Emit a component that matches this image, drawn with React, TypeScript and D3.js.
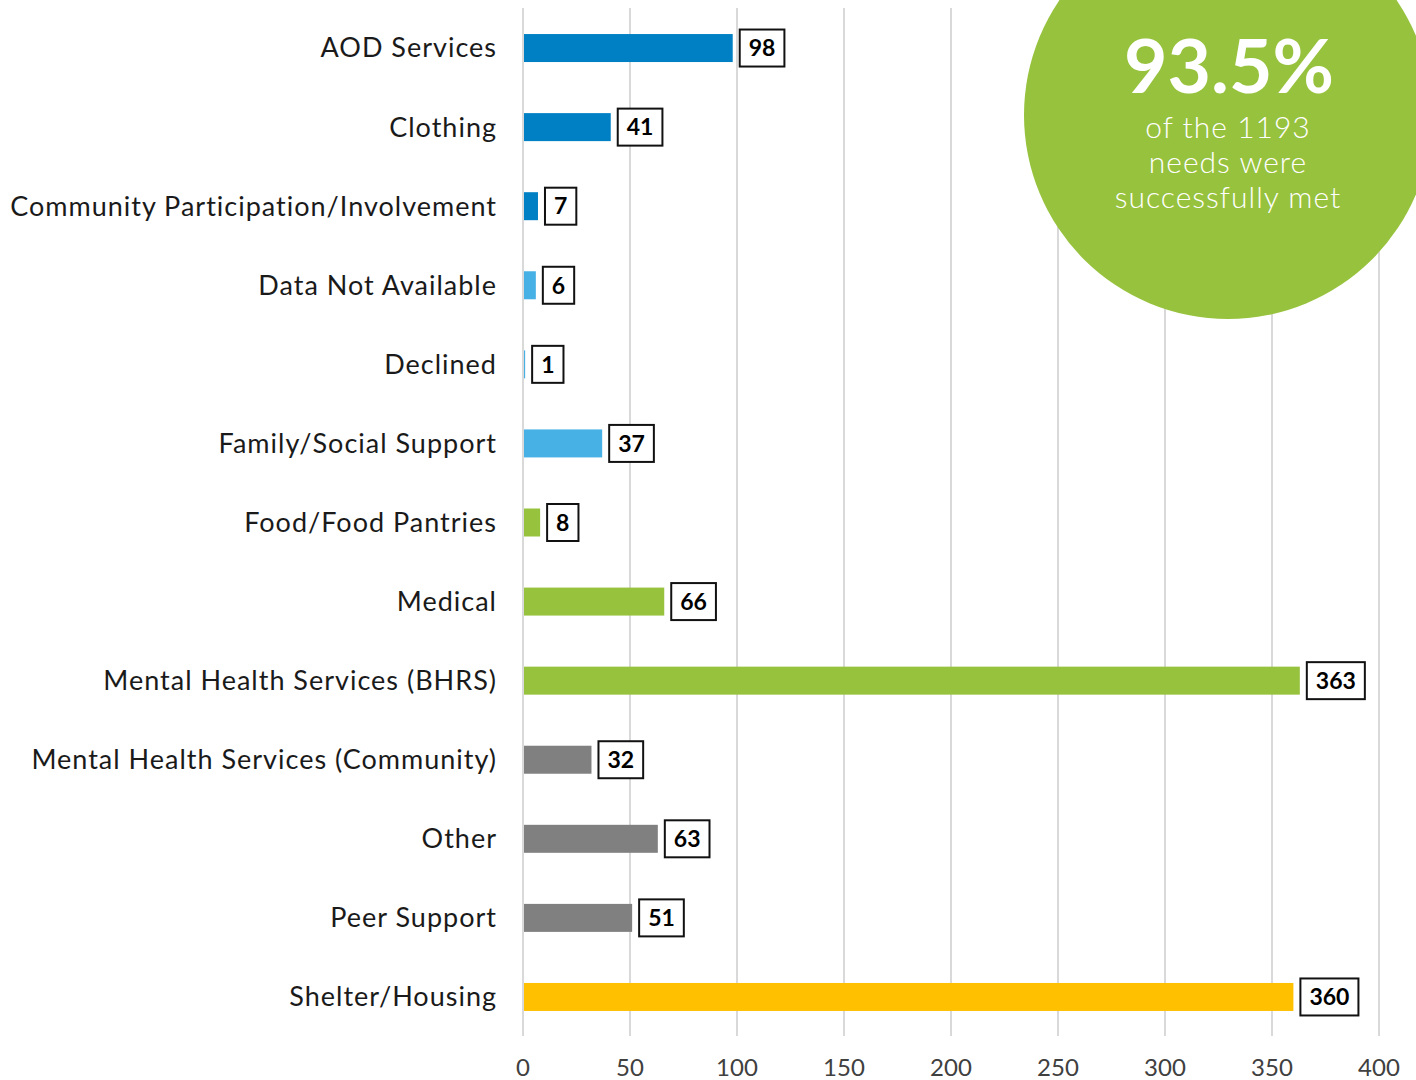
import React, { useEffect, useRef } from 'react';
import * as d3 from 'd3';

const categories = [
  'AOD Services',
  'Clothing',
  'Community Participation/Involvement',
  'Data Not Available',
  'Declined',
  'Family/Social Support',
  'Food/Food Pantries',
  'Medical',
  'Mental Health Services (BHRS)',
  'Mental Health Services (Community)',
  'Other',
  'Peer Support',
  'Shelter/Housing',
];
const counts = [98, 41, 7, 6, 1, 37, 8, 66, 363, 32, 63, 51, 360];
const barColors = [
  '#0080c4', '#0080c4', '#0080c4',
  '#47b0e5', '#47b0e5', '#47b0e5',
  '#97c23d', '#97c23d', '#97c23d',
  '#808080', '#808080', '#808080',
  '#ffc000',
];
const xTicks = [0, 50, 100, 150, 200, 250, 300, 350, 400];
const calloutBig = '93.5%';
const calloutLines = ['of the 1193', 'needs were', 'successfully met'];

const FONT = 'Lato, "Open Sans", sans-serif';

const App = () => {
  const ref = useRef<SVGSVGElement>(null);

  useEffect(() => {
    const svg = d3.select(ref.current);
    svg.selectAll('*').remove();

    const width = 1416;
    const height = 1080;

    const x = d3.scaleLinear().domain([0, 400]).range([523, 1379]);
    const y = d3.scaleBand()
      .domain(categories)
      .range([8.5, 1036.5])
      .paddingInner(0.646)
      .paddingOuter(0.323);

    // gridlines
    svg.append('g')
      .selectAll('line')
      .data(xTicks)
      .enter()
      .append('line')
      .attr('x1', d => x(d))
      .attr('x2', d => x(d))
      .attr('y1', 8)
      .attr('y2', 1036)
      .attr('stroke', '#d9d9d9')
      .attr('stroke-width', 2);

    // tick labels
    svg.append('g')
      .selectAll('text')
      .data(xTicks)
      .enter()
      .append('text')
      .attr('x', d => x(d))
      .attr('y', 1076)
      .attr('text-anchor', 'middle')
      .attr('font-family', FONT)
      .attr('font-size', 24)
      .attr('fill', '#404040')
      .text(d => d);

    // category labels
    svg.append('g')
      .selectAll('text')
      .data(categories)
      .enter()
      .append('text')
      .attr('x', 497)
      .attr('y', d => (y(d) as number) + y.bandwidth() / 2)
      .attr('dy', '0.35em')
      .attr('text-anchor', 'end')
      .attr('font-family', FONT)
      .attr('font-size', 27)
      .attr('letter-spacing', 1)
      .attr('fill', '#1a1a1a')
      .text(d => d);

    const rows = categories.map((c, i) => ({ c, v: counts[i], color: barColors[i] }));

    // bars
    svg.append('g')
      .selectAll('rect')
      .data(rows)
      .enter()
      .append('rect')
      .attr('x', x(0) + 1)
      .attr('y', d => y(d.c) as number)
      .attr('width', d => Math.max(1, x(d.v) - x(0) - 1))
      .attr('height', y.bandwidth())
      .attr('fill', d => d.color);

    // value boxes
    const lab = svg.append('g')
      .selectAll('g')
      .data(rows)
      .enter()
      .append('g')
      .attr('transform', d => `translate(${x(d.v) + 7},${(y(d.c) as number) + y.bandwidth() / 2})`);

    lab.each(function (d) {
      const g = d3.select(this);
      const rect = g.append('rect')
        .attr('y', -18.5)
        .attr('height', 37)
        .attr('fill', '#fff')
        .attr('stroke', '#111')
        .attr('stroke-width', 2);
      const t = g.append('text')
        .attr('y', 0)
        .attr('dy', '0.36em')
        .attr('text-anchor', 'middle')
        .attr('font-family', FONT)
        .attr('font-weight', 700)
        .attr('font-size', 23)
        .attr('fill', '#000')
        .text(d.v);
      const w = (t.node() as SVGTextElement).getComputedTextLength() + 18;
      rect.attr('x', 0).attr('width', w);
      t.attr('x', w / 2);
    });

    // callout circle
    svg.append('circle')
      .attr('cx', 1228)
      .attr('cy', 115)
      .attr('r', 204)
      .attr('fill', '#97c23d');

    svg.append('text')
      .attr('x', 1229)
      .attr('y', 93)
      .attr('text-anchor', 'middle')
      .attr('font-family', FONT)
      .attr('font-weight', 700)
      .attr('font-size', 75)
      .attr('fill', '#fff')
      .text(calloutBig);

    svg.append('g')
      .selectAll('text')
      .data(calloutLines)
      .enter()
      .append('text')
      .attr('x', 1228)
      .attr('y', (d, i) => 138 + i * 35)
      .attr('text-anchor', 'middle')
      .attr('font-family', FONT)
      .attr('font-weight', 300)
      .attr('font-size', 30)
      .attr('letter-spacing', 1)
      .attr('fill', '#fff')
      .text(d => d);

    svg.attr('width', width).attr('height', height);
  }, []);

  return (
    <svg
      ref={ref}
      width={1416}
      height={1080}
      style={{ position: 'absolute', left: 0, top: 0, background: '#fff' }}
    />
  );
};

export default App;
